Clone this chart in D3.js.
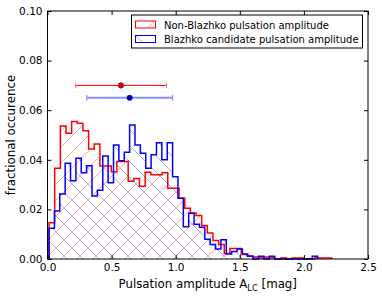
<!DOCTYPE html>
<html>
<head>
<meta charset="utf-8">
<script src="https://cdn.jsdelivr.net/npm/d3@7"></script>
<style>
  body { margin: 0; background: #fff; }
  text { font-family: "DejaVu Sans", sans-serif; fill: #000; }
</style>
</head>
<body>
<svg id="chart"></svg>
<script>
// histogram ranges (50 bins each, matplotlib-style min..max)
const nBins = 50
const redRange = [0.012, 2.217]
const blueRange = [0.012, 2.107]

// fractional occurrence per bin
const redFrac = [0.0146, 0.0366, 0.0536, 0.0507, 0.0554, 0.0547, 0.0517, 0.0444, 0.0464, 0.0375,
    0.0375, 0.0352, 0.0393, 0.0393, 0.0314, 0.0325, 0.0293, 0.0350, 0.0340, 0.0340,
    0.0348, 0.0285, 0.0285, 0.0245, 0.0205, 0.0185, 0.0175, 0.0135, 0.0105, 0.0075,
    0.0058, 0.0022, 0.0042, 0.0042, 0.0018, 0.0012, 0.0008, 0.0004, 0.0008, 0.0004,
    0, 0.0004, 0, 0.0004, 0.0004, 0, 0, 0.0004, 0.0004, 0.0004]
const blueFrac = [0.0124, 0.0194, 0.0262, 0.0386, 0.0316, 0.0406, 0.0348, 0.0376, 0.0254, 0.0277,
    0.0415, 0.0307, 0.0460, 0.0396, 0.0430, 0.0540, 0.0460, 0.0426, 0.0366, 0.0420,
    0.0469, 0.0400, 0.0469, 0.0332, 0.0245, 0.0130, 0.0184, 0.0140, 0.0128, 0.0080,
    0.0058, 0.0040, 0.0078, 0.0020, 0.0030, 0.0040, 0.0020, 0.0011, 0, 0.0011,
    0, 0.0011, 0, 0, 0, 0, 0, 0, 0, 0.0011]

// mean +/- sigma markers
const seriesNames = ["Non-Blazhko pulsation amplitude", "Blazhko candidate pulsation amplitude"]
const means = [0.573, 0.641]
const sigmas = [0.355, 0.335]
const markerY = [0.070, 0.065]

const xTicks = [0.0, 0.5, 1.0, 1.5, 2.0, 2.5]
const yTicks = [0.00, 0.02, 0.04, 0.06, 0.08, 0.10]

let w = 382
let h = 296
let m = {left: 47.5, right: 14, top: 11, bottom: 37}

let svg = d3.select("#chart").attr("width", w).attr("height", h)

let x = d3.scaleLinear().domain([0, 2.5]).range([m.left, w - m.right])
let y = d3.scaleLinear().domain([0, 0.10]).range([h - m.bottom, m.top])

// hatch patterns
let defs = svg.append("defs")
function hatch(id, color, dir) {
    let s = 16
    let p = defs.append("pattern")
        .attr("id", id)
        .attr("patternUnits", "userSpaceOnUse")
        .attr("width", s).attr("height", s)
    let d = dir == "/"
        ? `M0,${s} L${s},0 M-1,1 L1,-1 M${s-1},${s+1} L${s+1},${s-1}`
        : `M0,0 L${s},${s} M-1,${s-1} L1,${s+1} M${s-1},-1 L${s+1},1`
    p.append("path").attr("d", d)
        .attr("stroke", color).attr("stroke-width", 1)
        .attr("stroke-opacity", 0.33).attr("fill", "none")
}
hatch("hatch-red", "#ff0000", "/")
hatch("hatch-blue", "#0000ff", "\\")

function stepPoints(frac, range) {
    let bw = (range[1] - range[0]) / nBins
    let pts = [[range[0], 0]]
    frac.forEach((v, i) => {
        pts.push([range[0] + i * bw, v])
        pts.push([range[0] + (i + 1) * bw, v])
    })
    pts.push([range[1], 0])
    return pts
}

let line = d3.line().x(d => x(d[0])).y(d => y(d[1]))

let hists = [
    {frac: redFrac, range: redRange, color: "#ff0000", hatch: "url(#hatch-red)"},
    {frac: blueFrac, range: blueRange, color: "#0000ff", hatch: "url(#hatch-blue)"}
]

let g = svg.append("g")
for (const hst of hists) {
    let pts = stepPoints(hst.frac, hst.range)
    g.append("path")
        .attr("d", line(pts) + "Z")
        .attr("fill", hst.hatch)
        .attr("stroke", "none")
}
for (const hst of hists) {
    let pts = stepPoints(hst.frac, hst.range)
    g.append("path")
        .attr("d", line(pts))
        .attr("fill", "none")
        .attr("stroke", hst.color)
        .attr("stroke-width", 1.5)
        .attr("stroke-linejoin", "miter")
}

// error bars
let eb = [
    {mean: means[0], sd: sigmas[0], yv: markerY[0], line: "#ff0000", lineOp: 1, lw: 1, cap: "#ff8080", dot: "#dd0000"},
    {mean: means[1], sd: sigmas[1], yv: markerY[1], line: "#0000ff", lineOp: 0.45, lw: 2, cap: "#8080ff", dot: "#0000cc"}
]
for (const e of eb) {
    let yy = y(e.yv)
    svg.append("line")
        .attr("x1", x(e.mean - e.sd)).attr("x2", x(e.mean + e.sd))
        .attr("y1", yy).attr("y2", yy)
        .attr("stroke", e.line).attr("stroke-opacity", e.lineOp).attr("stroke-width", e.lw)
    for (const cx of [e.mean - e.sd, e.mean + e.sd]) {
        svg.append("line")
            .attr("x1", x(cx)).attr("x2", x(cx))
            .attr("y1", yy - 3).attr("y2", yy + 3)
            .attr("stroke", e.cap).attr("stroke-width", 1)
    }
    svg.append("circle")
        .attr("cx", x(e.mean)).attr("cy", yy).attr("r", 2.8)
        .attr("fill", e.dot).attr("stroke", "#000").attr("stroke-width", 0.3)
}

// frame
svg.append("rect")
    .attr("x", m.left).attr("y", m.top)
    .attr("width", w - m.right - m.left).attr("height", h - m.bottom - m.top)
    .attr("fill", "none").attr("stroke", "#000").attr("stroke-width", 1)

// axes, ticks inward on all sides
let tl = 4
svg.append("g").attr("transform", `translate(0,${h - m.bottom})`)
    .call(d3.axisBottom(x).tickValues(xTicks).tickFormat(d3.format(".1f")).tickSizeInner(-tl).tickSizeOuter(0).tickPadding(5))
svg.append("g").attr("transform", `translate(0,${m.top})`)
    .call(d3.axisTop(x).tickValues(xTicks).tickFormat("").tickSizeInner(-tl).tickSizeOuter(0))
svg.append("g").attr("transform", `translate(${m.left},0)`)
    .call(d3.axisLeft(y).tickValues(yTicks).tickFormat(d3.format(".2f")).tickSizeInner(-tl).tickSizeOuter(0).tickPadding(5))
svg.append("g").attr("transform", `translate(${w - m.right},0)`)
    .call(d3.axisRight(y).tickValues(yTicks).tickFormat("").tickSizeInner(-tl).tickSizeOuter(0))

svg.selectAll(".domain").remove()
svg.selectAll(".tick line").attr("stroke", "#000")
svg.selectAll(".tick text").attr("font-size", 10.5).attr("font-family", "DejaVu Sans").attr("fill", "#000")

// axis labels
svg.append("text")
    .attr("x", (m.left + w - m.right) / 2).attr("y", 288)
    .attr("text-anchor", "middle").attr("font-size", 11.8)
    .html('Pulsation amplitude A<tspan font-size="8.3" dy="2.8">LC</tspan><tspan dy="-2.8"> [mag]</tspan>')
svg.append("text")
    .attr("transform", `translate(15,${(m.top + h - m.bottom) / 2}) rotate(-90)`)
    .attr("text-anchor", "middle").attr("font-size", 11.8)
    .text("fractional occurence")

// legend
let lg = svg.append("g").attr("transform", "translate(131.5,15)")
lg.append("rect").attr("width", 231).attr("height", 33)
    .attr("fill", "#fff").attr("stroke", "#000").attr("stroke-width", 1)
let lcol = ["#ff0000", "#0000ff"]
seriesNames.forEach((name, i) => {
    let yy = 6 + i * 14.5
    lg.append("rect").attr("x", 4).attr("y", yy).attr("width", 20).attr("height", 7)
        .attr("fill", "none").attr("stroke", lcol[i]).attr("stroke-width", 1)
    lg.append("line")
        .attr("x1", i == 0 ? 16 : 4).attr("x2", i == 0 ? 23 : 11)
        .attr("y1", i == 0 ? yy + 7 : yy).attr("y2", i == 0 ? yy : yy + 7)
        .attr("stroke", lcol[i]).attr("stroke-opacity", 0.4).attr("stroke-width", 0.9)
    lg.append("text").attr("x", 32.5).attr("y", yy + 7.5)
        .attr("font-size", 10).text(name)
})
</script>
</body>
</html>
